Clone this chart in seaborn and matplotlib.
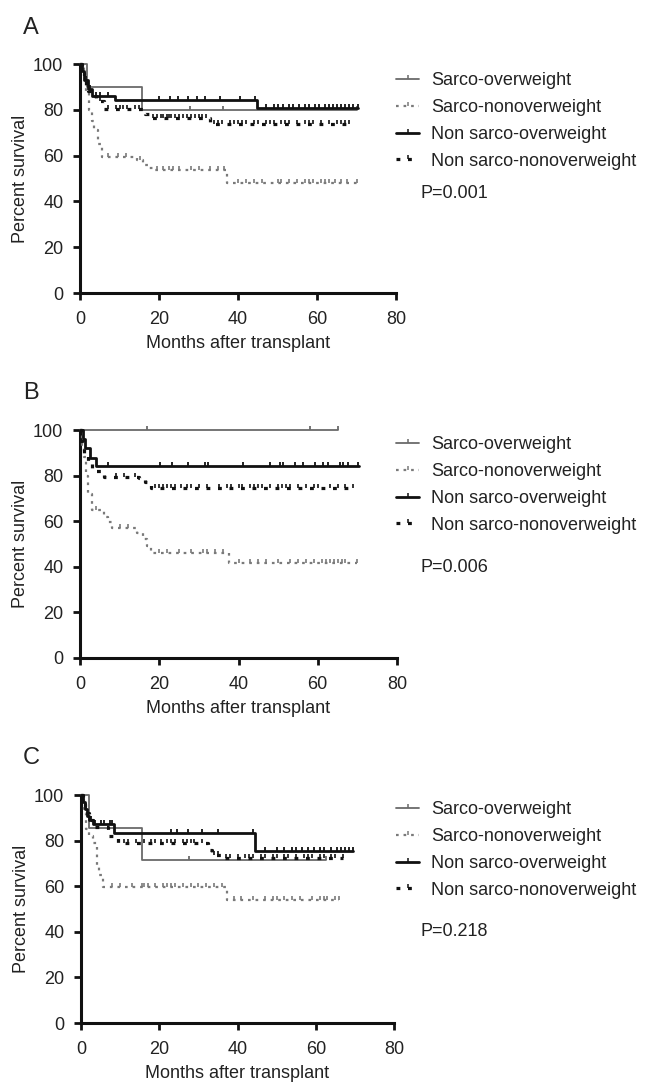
import numpy as np
import pandas as pd
import matplotlib
matplotlib.use('Agg')
import matplotlib.pyplot as plt
from matplotlib.lines import Line2D
import seaborn as sns

# group labels (same in every panel)
groups = ['Sarco-overweight', 'Sarco-nonoverweight', 'Non sarco-overweight', 'Non sarco-nonoverweight']
panel_letters = ['A', 'B', 'C']
p_values = ['P=0.001', 'P=0.006', 'P=0.218']

# ---- panel A: drop times, survival after each drop, last follow-up, censor times
so_A_t = [0, 1.8, 15.6]
so_A_s = [100, 90, 80]
so_A_end = 70
so_A_cens = [27.8, 36.3, 70]

sn_A_t = [0, 1, 1.5, 2.2, 3, 3.5, 4.5, 5.5, 14.5, 16, 17.5, 19, 37.3]
sn_A_s = [100, 95, 88, 80, 75, 71, 65, 59.5, 58, 56, 54.5, 53.7, 48.2]
sn_A_end = 70
sn_A_cens = [7, 9.5, 11.6, 15.3, 19.5, 21, 22.5, 23.5, 25, 28, 30, 33, 35, 36.5, 40, 42, 44, 46, 50,
             51, 53, 55, 57, 58, 59, 61, 62, 63, 64.5, 66, 67.5, 70]

nso_A_t = [0, 0.5, 1, 2, 3, 8.8, 44.8]
nso_A_s = [100, 97, 93, 89, 86, 84.3, 81]
nso_A_end = 70.5
nso_A_cens = [1.5, 2.5, 4, 5, 7, 20, 22.8, 24.8, 27.3, 29.6, 31.6, 35.4, 40.5, 44.3, 47, 49, 50, 51.5,
              53, 54, 55.5, 57, 58, 59.5, 60.5, 62, 63, 64, 65, 66, 67, 68, 69, 70.5]

nsn_A_t = [0, 0.5, 1, 1.5, 2, 3, 4, 6, 16.5, 18, 33]
nsn_A_s = [100, 96, 93, 90, 88, 86, 84, 80.2, 78, 76.3, 74]
nsn_A_end = 68
nsn_A_cens = [5, 7, 9, 10, 11, 12, 14, 15, 18.5, 19.5, 20.5, 21, 22, 22.5, 23, 24, 25, 26, 27, 28, 29,
              30, 31, 32, 34, 35, 36, 38, 39, 40, 41, 42, 44, 45, 47, 48, 49, 51, 52, 53, 55, 57, 58,
              59, 61, 63, 65, 66, 67, 68]

# ---- panel B
so_B_t = [0]
so_B_s = [100]
so_B_end = 65
so_B_cens = [16.8, 58, 65]

sn_B_t = [0, 0.5, 1, 1.5, 2, 3, 6, 7, 8, 14.5, 16, 17, 18, 37.5]
sn_B_s = [100, 93, 88, 80, 72, 65, 62, 59.8, 57, 55, 52, 49, 46, 41.5]
sn_B_end = 70
sn_B_cens = [4, 10, 12, 20, 22, 25, 28, 31, 32, 34, 36, 40, 43, 45, 47, 50, 53, 55, 57, 59, 61, 62,
             63, 64, 65, 66, 67, 70]

nso_B_t = [0, 0.7, 1.2, 2.5, 4]
nso_B_s = [100, 96, 92, 87.7, 84]
nso_B_end = 70.5
nso_B_cens = [7.1, 20.2, 23.2, 27.3, 31.6, 32.4, 41.2, 48, 50.5, 51.3, 54.3, 56.3, 59.3, 61.4, 62.6,
              65.6, 66.4, 67.7, 70.2]

nsn_B_t = [0, 0.5, 1, 2, 3, 4, 6, 15, 16.5, 18]
nsn_B_s = [100, 95, 90, 86, 83, 82, 79.5, 79, 77, 74.4]
nsn_B_end = 69
nsn_B_cens = [9, 11, 14, 19, 20, 21, 22, 23, 24, 25.5, 27, 28, 30, 32, 35, 37, 38, 40, 41, 43, 44,
              45, 46, 48, 50, 51, 52, 53, 55, 57, 59, 60, 63, 65, 67, 69]

# ---- panel C
so_C_t = [0, 2, 15.6]
so_C_s = [100, 85.7, 71.4]
so_C_end = 62.5
so_C_cens = [27.6, 62.5]

sn_C_t = [0, 0.7, 1.2, 2, 3, 4, 4.5, 5.5, 37.3]
sn_C_s = [100, 92, 85, 82, 78.8, 68.6, 65, 59.8, 53.8]
sn_C_end = 66
sn_C_cens = [8, 10, 13, 15.5, 16, 17, 19, 21, 22, 23, 24, 26, 28, 30, 32, 34, 36, 39, 41, 44, 47,
             49, 50, 52, 54, 56, 59, 61, 62, 63, 65, 66]

nso_C_t = [0, 0.5, 1, 1.5, 2, 3, 8.5, 44.5]
nso_C_s = [100, 97, 94, 91, 89, 87.5, 83.2, 75.4]
nso_C_end = 69.5
nso_C_cens = [1.2, 2.5, 3.5, 5, 6, 7.5, 8, 23, 24.5, 27.4, 30.9, 35.1, 44, 47, 50, 52, 54, 55, 56.5,
              58, 59.5, 61, 62, 64, 65.5, 66.5, 67.5, 68.5, 69.5]

nsn_C_t = [0, 0.5, 1, 2, 3, 7, 9.5, 32.5, 33.5, 36]
nsn_C_s = [100, 96, 92, 89, 86, 82, 78.8, 76, 73.7, 72.5]
nsn_C_end = 67
nsn_C_cens = [11, 12, 14, 16, 18, 19, 20.5, 22, 23, 24, 26, 27, 28, 29, 31, 34, 35, 37, 38, 40, 42,
              43, 44, 46, 47, 49, 50, 52, 53, 55, 57, 58, 59, 61, 62, 64, 65, 67]

panels = [
    [(so_A_t, so_A_s, so_A_end, so_A_cens), (sn_A_t, sn_A_s, sn_A_end, sn_A_cens),
     (nso_A_t, nso_A_s, nso_A_end, nso_A_cens), (nsn_A_t, nsn_A_s, nsn_A_end, nsn_A_cens)],
    [(so_B_t, so_B_s, so_B_end, so_B_cens), (sn_B_t, sn_B_s, sn_B_end, sn_B_cens),
     (nso_B_t, nso_B_s, nso_B_end, nso_B_cens), (nsn_B_t, nsn_B_s, nsn_B_end, nsn_B_cens)],
    [(so_C_t, so_C_s, so_C_end, so_C_cens), (sn_C_t, sn_C_s, sn_C_end, sn_C_cens),
     (nso_C_t, nso_C_s, nso_C_end, nso_C_cens), (nsn_C_t, nsn_C_s, nsn_C_end, nsn_C_cens)],
]

# line look per group
styles = [
    dict(color='#6a6a6a', lw=1.3, ls='-'),
    dict(color='#7a7a7a', lw=1.6, ls=(0, (1.2, 2.2))),
    dict(color='#111111', lw=2.0, ls='-'),
    dict(color='#111111', lw=2.3, ls=(0, (1.2, 2.4))),
]

sns.set_style('ticks')
plt.rcParams['font.family'] = ['Liberation Sans', 'DejaVu Sans']
FS = 13

fig = plt.figure(figsize=(6.49, 10.85), dpi=100)
W, H = 649, 1085
# axes boxes in pixels: left, top(y=100), right(x=80), bottom(y=0)
boxes = [(80, 64, 396, 293), (80, 430, 397, 658), (81, 795, 394, 1023)]
legend_top = [72, 436, 801]
p_y = [193, 567, 932]
letter_y = [28, 393, 758]


def step_value(t, s, x):
    i = np.searchsorted(t, x, side='right') - 1
    return np.array(s)[i]


for k, (l, t, r, b) in enumerate(boxes):
    ax = fig.add_axes([l / W, 1 - b / H, (r - l) / W, (b - t) / H])
    for g, (tt, ss, end, cens) in enumerate(panels[k]):
        df = pd.DataFrame({'time': tt + [end], 'surv': ss + [ss[-1]]})
        st = styles[g]
        sns.lineplot(data=df, x='time', y='surv', ax=ax, estimator=None, sort=False,
                     drawstyle='steps-post', color=st['color'], linewidth=st['lw'],
                     linestyle=st['ls'], clip_on=False, zorder=3 + g)
        cy = step_value(tt, ss, np.array(cens))
        ax.plot(cens, cy, ls='none', marker=2, ms=2.6, mew=1.3 if g % 2 == 0 else 1.2,
                color=st['color'], clip_on=False, zorder=3 + g)

    ax.set_xlim(0, 80)
    ax.set_ylim(0, 100)
    ax.set_xticks([0, 20, 40, 60, 80])
    ax.set_yticks([0, 20, 40, 60, 80, 100])
    ax.set_xlabel('Months after transplant', fontsize=FS, color='#222222', labelpad=5)
    ax.set_ylabel('Percent survival', fontsize=FS, color='#222222', labelpad=3)
    ax.tick_params(labelsize=FS, width=2, length=5, colors='#111111', labelcolor='#222222')
    ax.tick_params(axis='x', pad=8)
    ax.tick_params(axis='y', pad=7)
    sns.despine(ax=ax)
    for sp in ['left', 'bottom']:
        ax.spines[sp].set_linewidth(2.2)
        ax.spines[sp].set_color('#111111')

    handles = [Line2D([], [], color=st['color'], lw=st['lw'], ls=st['ls'],
                      marker=2, ms=3, mew=1.1) for st in styles]
    ax.legend(handles, groups, loc='upper left', frameon=False, fontsize=FS,
              bbox_to_anchor=(396 / W, 1 - legend_top[k] / H), bbox_transform=fig.transFigure,
              borderpad=0, borderaxespad=0, handlelength=1.3, handletextpad=0.65,
              labelspacing=0.55, markerfirst=True)
    for txt in ax.get_legend().get_texts():
        txt.set_color('#222222')
    fig.text(420 / W, 1 - p_y[k] / H, p_values[k], fontsize=FS, color='#222222', va='center')
    fig.text(23 / W, 1 - letter_y[k] / H, panel_letters[k], fontsize=17,
             color='#222222', va='center', ha='left')

fig.savefig('out.png', dpi=100)
